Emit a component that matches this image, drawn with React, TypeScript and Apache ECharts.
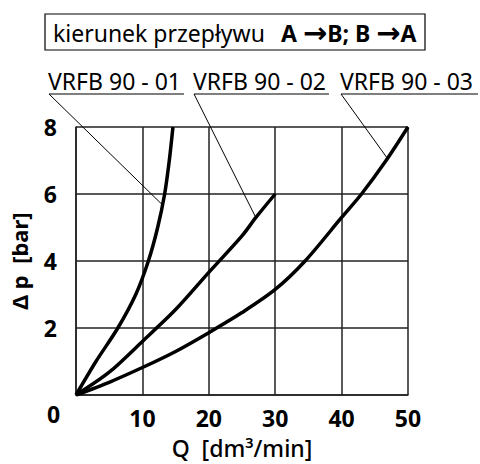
import React, { useEffect, useRef } from "react";
import * as echarts from "echarts";

// Flow Q [dm3/min] and pressure drop Δp [bar] for each valve size
const curveNames = ["VRFB 90 - 01", "VRFB 90 - 02", "VRFB 90 - 03"];
const q01 = [0, 3.0, 6.3, 9.0, 10.9, 12.3, 13.35, 14.05, 14.6];
const p01 = [0, 1, 2, 3, 4, 5, 6, 7, 8];
const q02 = [0, 5, 10, 15, 20, 25, 27.1, 30];
const p02 = [0, 0.68, 1.6, 2.55, 3.66, 4.75, 5.3, 6];
const q03 = [0, 5, 10, 15, 20, 25, 30, 34.5, 40, 43, 46.7, 50];
const p03 = [0, 0.38, 0.82, 1.3, 1.86, 2.46, 3.15, 4, 5.3, 6, 7, 8];
// where each label's leader line touches its curve (data coords)
const leaderTargets = [
  [13.0, 5.68],
  [27.1, 5.29],
  [46.8, 7.09],
];
const titleNormal = "kierunek przepływu";
const xName = "Q  [dm³/min]";
const yName = "Δ p  [bar]";

const FONT = "Noto Sans";

export default function App() {
  const ref = useRef<HTMLDivElement>(null);
  useEffect(() => {
    if (!ref.current) return;
    const chart = echarts.init(ref.current, undefined, { renderer: "svg" });
    const curves = [
      [q01, p01],
      [q02, p02],
      [q03, p03],
    ];
    const option: any = {
      animation: false,
      grid: { left: 76, right: 72, top: 127, bottom: 68 },
      xAxis: {
        type: "value",
        min: 0,
        max: 50,
        interval: 10,
        axisLine: { show: true, lineStyle: { color: "#222", width: 1.5 } },
        axisTick: { show: false },
        splitLine: { show: true, lineStyle: { color: "#222", width: 1.5 } },
        axisLabel: {
          showMinLabel: false,
          color: "#000",
          fontFamily: FONT,
          fontWeight: "bold",
          fontSize: 23,
          margin: 11,
        },
        name: xName,
        nameLocation: "middle",
        nameGap: 41,
        nameTextStyle: { color: "#000", fontFamily: FONT, fontSize: 23, fontWeight: 500 },
      },
      yAxis: {
        type: "value",
        min: 0,
        max: 8,
        interval: 2,
        axisLine: { show: true, lineStyle: { color: "#222", width: 1.5 } },
        axisTick: { show: false },
        splitLine: { show: true, lineStyle: { color: "#222", width: 1.5 } },
        axisLabel: {
          showMinLabel: false,
          color: "#000",
          fontFamily: FONT,
          fontWeight: "bold",
          fontSize: 23,
          margin: 19,
        },
        name: yName,
        nameLocation: "middle",
        nameRotate: 90,
        nameGap: 46,
        nameTextStyle: { color: "#000", fontFamily: FONT, fontSize: 22, fontWeight: "bold" },
      },
      series: curves.map(([q, p], k) => ({
        name: curveNames[k],
        type: "line",
        showSymbol: false,
        smooth: 0.3,
        lineStyle: { color: "#000", width: 3.5 },
        data: q.map((v, i) => [v, p[i]]),
      })),
    };
    chart.setOption(option);

    const origin = chart.convertToPixel({ gridIndex: 0 }, [0, 0]) as number[];
    const labelLeft = [48, 193, 340];
    const labelWidth = [136, 136, 138];
    const underlineY = 94;
    const graphics: any[] = [
      {
        type: "rect",
        shape: { x: 45, y: 14, width: 380, height: 36 },
        style: { fill: "none", stroke: "#000", lineWidth: 1.2 },
      },
      {
        type: "text",
        x: 53,
        y: 33,
        style: {
          text: titleNormal,
          fontFamily: FONT,
          fontSize: 23,
          fill: "#000",
          verticalAlign: "middle",
        },
      },
      {
        type: "text",
        x: 281,
        y: 33,
        style: {
          text: "{b|A }{a|\u2192}{b|B; B }{a|\u2192}{b|A}",
          fontFamily: FONT,
          fontSize: 23,
          fontWeight: "bold",
          fill: "#000",
          verticalAlign: "middle",
          rich: {
            b: { fontFamily: FONT, fontSize: 23, fontWeight: "bold", fill: "#000" },
            a: { fontFamily: "DejaVu Sans", fontSize: 29, fontWeight: "bold", fill: "#000" },
          },
        },
      },
      {
        type: "text",
        x: origin[0] - 29,
        y: origin[1] + 19,
        style: {
          text: "0",
          fontFamily: FONT,
          fontSize: 23,
          fontWeight: "bold",
          fill: "#000",
          verticalAlign: "middle",
        },
      },
    ];
    curveNames.forEach((name, k) => {
      graphics.push({
        type: "text",
        x: labelLeft[k],
        y: 81,
        style: {
          text: name,
          fontFamily: FONT,
          fontSize: 23,
          fill: "#000",
          verticalAlign: "middle",
        },
      });
      graphics.push({
        type: "line",
        shape: { x1: labelLeft[k] + 1, y1: underlineY, x2: labelLeft[k] + labelWidth[k], y2: underlineY },
        style: { stroke: "#000", lineWidth: 1.2 },
      });
      const t = chart.convertToPixel({ gridIndex: 0 }, leaderTargets[k]) as number[];
      graphics.push({
        type: "line",
        shape: { x1: labelLeft[k] + 1, y1: underlineY, x2: t[0], y2: t[1] },
        style: { stroke: "#000", lineWidth: 1 },
      });
    });
    chart.setOption({ graphic: graphics });
    return () => chart.dispose();
  }, []);
  return (
    <div
      ref={ref}
      style={{ position: "fixed", left: 0, top: 0, width: 480, height: 464, background: "#fff" }}
    />
  );
}
